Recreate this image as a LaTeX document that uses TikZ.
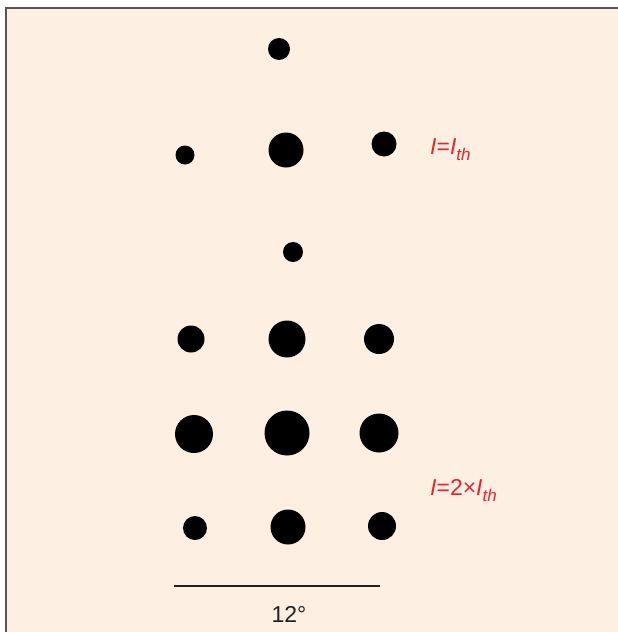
\documentclass[tikz,border=0pt]{standalone}
\usepackage{fontspec}
\setmainfont{Liberation Sans}
\definecolor{peach}{RGB}{253,239,225}
\definecolor{framegray}{RGB}{85,85,85}
\definecolor{labelred}{RGB}{232,36,46}
\definecolor{textgray}{RGB}{34,34,34}
\tikzset{
  spot/.style={circle, fill=black, inner sep=0pt, minimum size=#1},
  lbl/.style={text=labelred, font=\fontsize{23}{26}\selectfont\itshape, anchor=base west, inner sep=0pt},
  scalebar/.style={draw=textgray, line width=1.1pt},
  scaletext/.style={text=textgray, font=\fontsize{23}{26}\selectfont, anchor=base, inner sep=0pt}
}
\newcommand{\thsub}{\raisebox{-0.28em}{\fontsize{17}{20}\selectfont\itshape th}}
\begin{document}
\begin{tikzpicture}[x=1pt,y=-1pt]
\useasboundingbox (0,0) rectangle (618,632);
\fill[peach] (6,8) rectangle (618,632);
\draw[framegray, line width=2pt] (6,632) -- (6,8) -- (618,8);
% group 1: I = I_th
\node[spot=22pt] (a0) at (279,49) {};
\node[spot=19pt] (a1) at (185,155) {};
\node[spot=35pt] (a2) at (286,150) {};
\node[spot=25pt] (a3) at (384,144) {};
% group 2: I = 2 x I_th
\node[spot=20pt] (b0) at (293,252) {};
\node[spot=27pt] (b1) at (191,339) {};
\node[spot=37pt] (b2) at (287,339) {};
\node[spot=30pt] (b3) at (379,339) {};
\node[spot=38pt] (b4) at (194,434) {};
\node[spot=45pt] (b5) at (287,433) {};
\node[spot=39pt] (b6) at (379,433) {};
\node[spot=24pt] (b7) at (195,528) {};
\node[spot=35pt] (b8) at (288,527) {};
\node[spot=28pt] (b9) at (382,526) {};
% labels
\node[lbl] (l1) at (430,154) {I\upshape=\itshape I\thsub};
\node[lbl] (l2) at (430,495) {I\upshape=2×\itshape I\thsub};
% scale bar
\coordinate (sbl) at (174,586);
\coordinate (sbr) at (380,586);
\draw[scalebar] (sbl) -- (sbr);
\node[scaletext] (st) at (289,622) {12°};
\end{tikzpicture}
\end{document}
